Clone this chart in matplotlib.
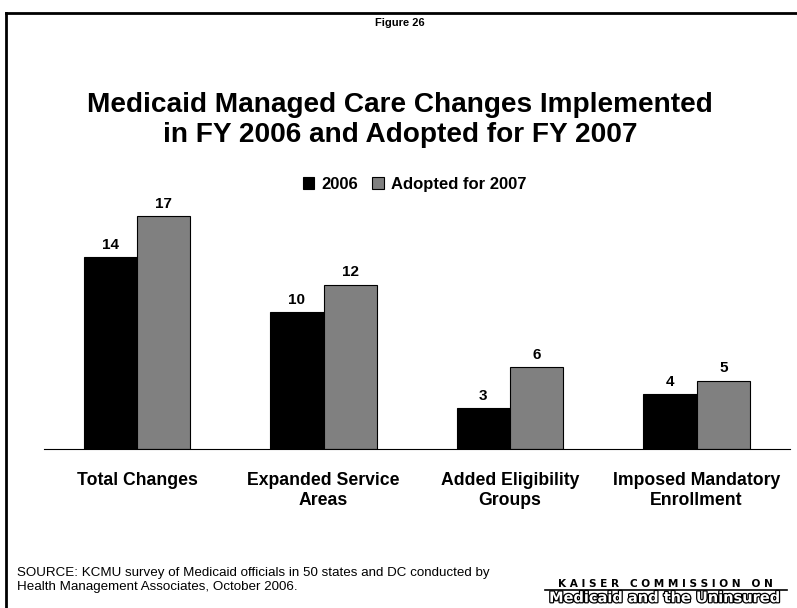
import matplotlib.pyplot as plt
import matplotlib.patheffects as pe
import numpy as np

plt.rcParams['font.family'] = ['Liberation Sans', 'DejaVu Sans']

categories = ['Total Changes', 'Expanded Service\nAreas', 'Added Eligibility\nGroups',
              'Imposed Mandatory\nEnrollment']
vals_2006 = [14, 10, 3, 4]
vals_2007 = [17, 12, 6, 5]
series_names = ['2006', 'Adopted for 2007']

fig = plt.figure(figsize=(7.97, 6.08), dpi=100)

# outer frame line (top and left)
fig.add_artist(plt.Line2D([0.008, 0.008], [0.0, 0.979], color='black', lw=2))
fig.add_artist(plt.Line2D([0.008, 1.0], [0.979, 0.979], color='black', lw=2))

fig.text(0.502, 0.962, 'Figure 26', ha='center', va='center', fontsize=8, fontweight='bold')
fig.text(0.502, 0.802, 'Medicaid Managed Care Changes Implemented\nin FY 2006 and Adopted for FY 2007',
         ha='center', va='center', fontsize=20.2, fontweight='bold', linespacing=1.2)

ax = fig.add_axes([0.055, 0.261, 0.936, 0.451])
x = np.arange(len(categories))
w = 0.286
b1 = ax.bar(x - w / 2, vals_2006, w, color='black', edgecolor='black', lw=0.8, label=series_names[0])
b2 = ax.bar(x + w / 2, vals_2007, w, color='#808080', edgecolor='black', lw=0.8, label=series_names[1])
for bars in (b1, b2):
    for r in bars:
        ax.text(r.get_x() + r.get_width() / 2, r.get_height() + 0.4, str(int(r.get_height())),
                ha='center', va='bottom', fontsize=11, fontweight='bold')

ax.set_xlim(-0.5, 3.5)
ax.set_ylim(0, 20)
for s in ['top', 'right', 'left']:
    ax.spines[s].set_visible(False)
ax.spines['bottom'].set_linewidth(0.8)
ax.set_yticks([])
ax.set_xticks(x)
ax.set_xticklabels(categories, fontsize=12.7, fontweight='bold', linespacing=1.25)
ax.tick_params(axis='x', length=0, pad=16)

leg = ax.legend(loc='center', bbox_to_anchor=(0.497, 0.966), ncol=2, frameon=False,
                handlelength=0.68, handleheight=0.68, handletextpad=0.45,
                columnspacing=0.85, prop={'weight': 'bold', 'size': 12})

fig.text(0.021, 0.046, 'SOURCE: KCMU survey of Medicaid officials in 50 states and DC conducted by\n'
         'Health Management Associates, October 2006.', ha='left', va='center', fontsize=9.6,
         linespacing=1.2)

# commission logo
fig.text(0.835, 0.040, 'K A I S E R   C O M M I S S I O N   O N', ha='center', va='center',
         fontsize=7.6, fontweight='bold', family='DejaVu Sans')
fig.add_artist(plt.Line2D([0.684, 0.988], [0.030, 0.030], color='black', lw=1.2))
t = fig.text(0.835, 0.017, 'Medicaid and the Uninsured', ha='center', va='center',
             fontsize=10.5, fontweight='bold', color='white', family='DejaVu Sans')
t.set_path_effects([pe.Stroke(linewidth=1.8, foreground='black'), pe.Normal()])

fig.savefig('out.png', dpi=100)
